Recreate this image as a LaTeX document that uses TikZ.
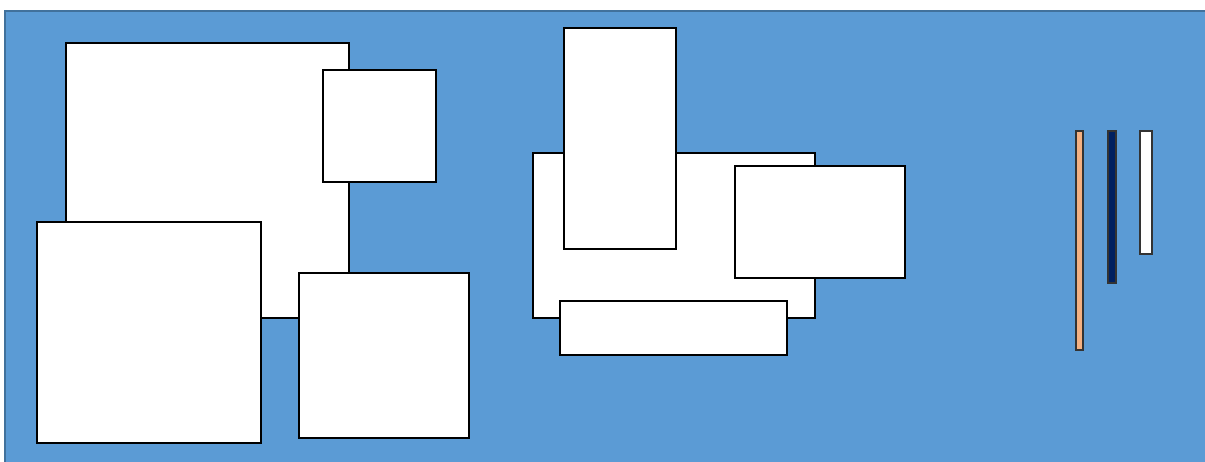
\documentclass[tikz,border=0pt]{standalone}
\usepackage{tikz}
\definecolor{panelblue}{HTML}{5B9BD5}
\definecolor{panelrim}{HTML}{41719C}
\definecolor{barpeach}{HTML}{F4B183}
\definecolor{barnavy}{HTML}{002060}

\begin{document}
\begin{tikzpicture}[
    x=0.02cm,y=-0.02cm,
    panel/.style={fill=panelblue, draw=panelrim, line width=0.6pt},
    block/.style={draw=black, fill=white, line width=0.8pt},
    bar/.style={draw=black!80, line width=0.8pt}
  ]
    \useasboundingbox (0,0) rectangle (1205,462);
    \draw[panel] (5,11) rectangle (1207,464);

    % left cluster
    \draw[block] (66,43) rectangle (349,318);
    \draw[block] (323,70) rectangle (436,182);
    \draw[block] (37,222) rectangle (261,443);
    \draw[block] (299,273) rectangle (469,438);

    % middle cluster
    \draw[block] (533,153) rectangle (815,318);
    \draw[block] (564,28) rectangle (676,249);
    \draw[block] (735,166) rectangle (905,278);
    \draw[block] (560,301) rectangle (787,355);

    % bars
    \draw[bar, fill=barpeach] (1076,131) rectangle (1083,350);
    \draw[bar, fill=barnavy] (1108,131) rectangle (1116,283);
    \draw[bar, fill=white] (1140,131) rectangle (1152,254);
  \end{tikzpicture}
\end{document}
